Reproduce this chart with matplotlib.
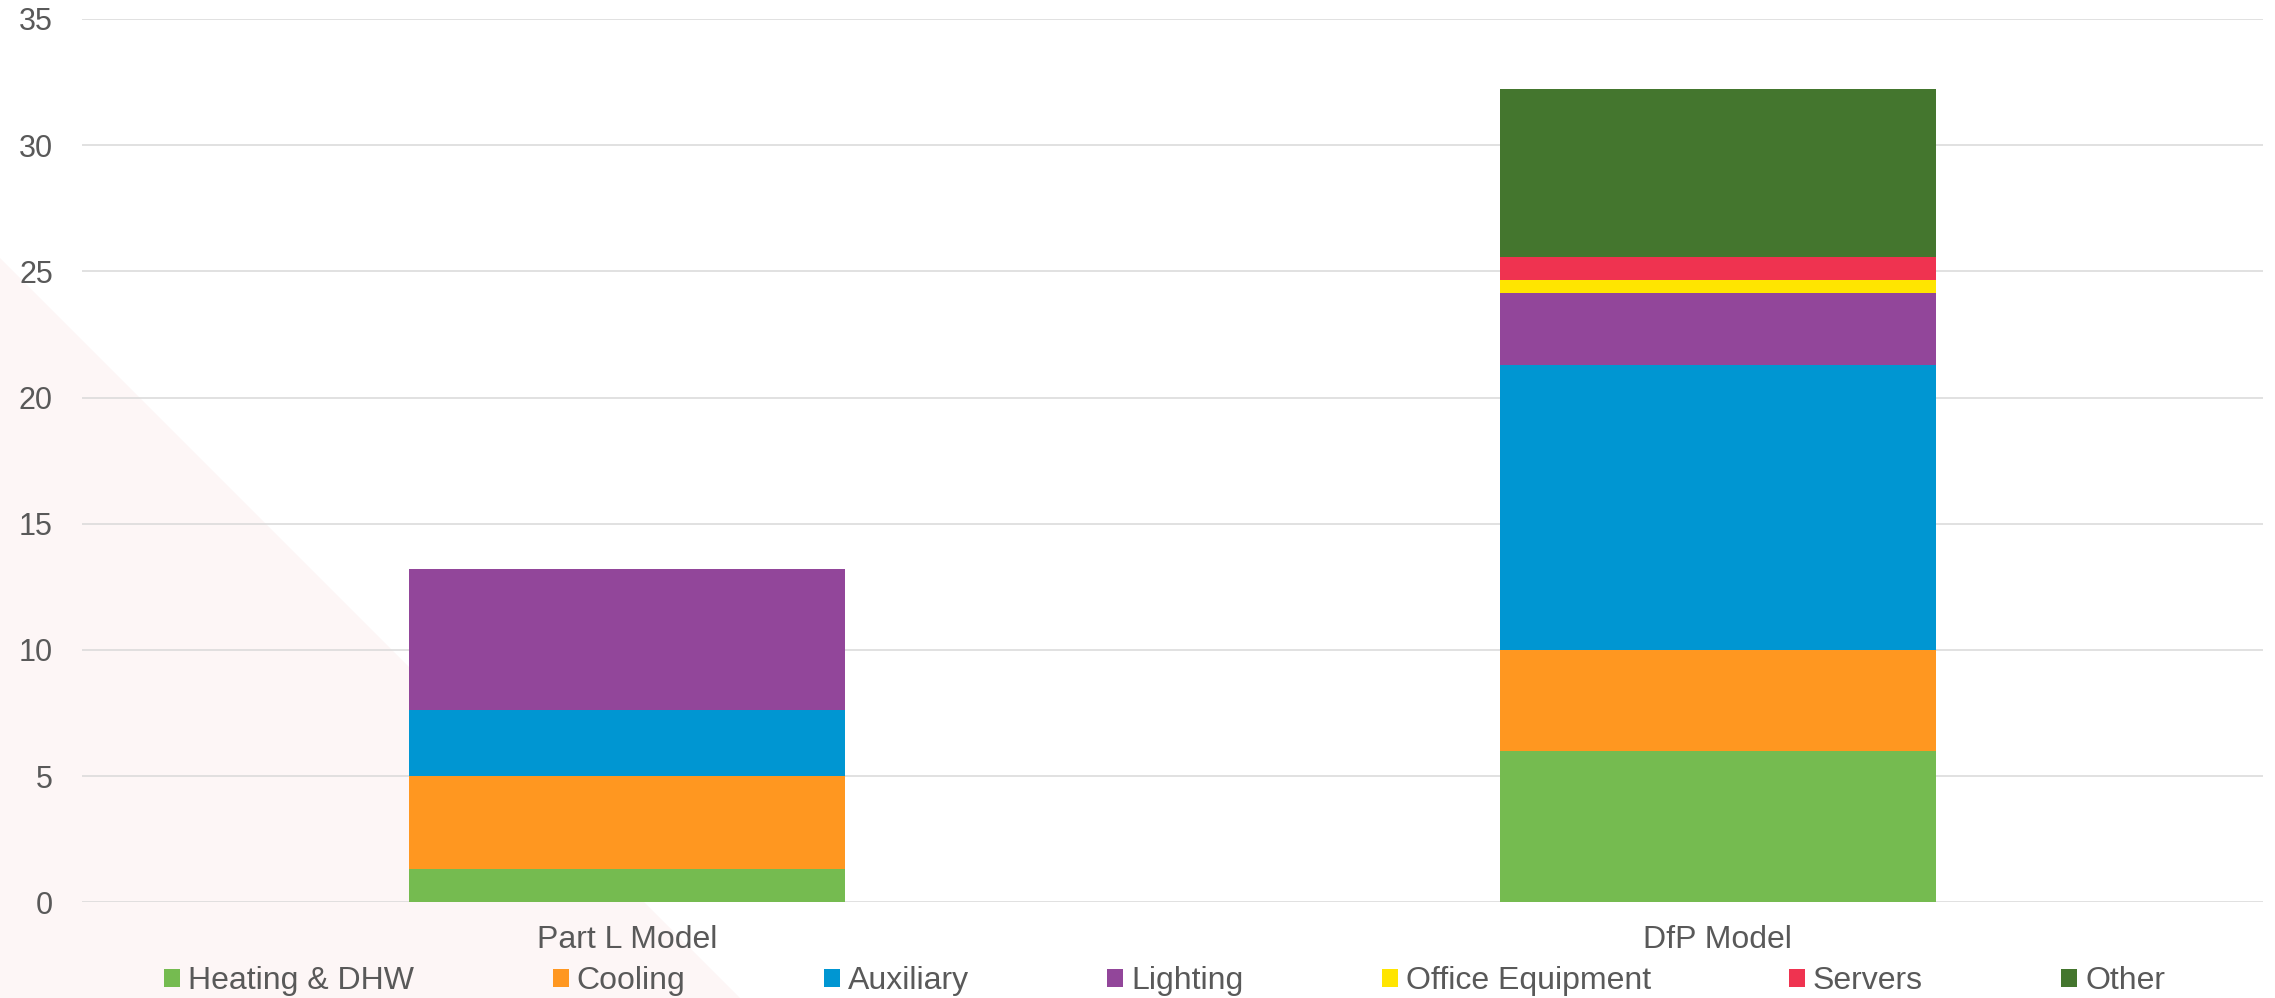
import matplotlib
matplotlib.use("Agg")
import matplotlib.pyplot as plt
from matplotlib.patches import Polygon, Patch
import numpy as np

categories = ["Part L Model", "DfP Model"]
series_names = ["Heating & DHW", "Cooling", "Auxiliary", "Lighting",
                "Office Equipment", "Servers", "Other"]
heating = [1.3, 6.0]
cooling = [3.7, 4.0]
auxiliary = [2.6, 11.3]
lighting = [5.6, 2.83]
office_equipment = [0.0, 0.52]
servers = [0.0, 0.92]
other = [0.0, 6.67]
yticks = [0, 5, 10, 15, 20, 25, 30, 35]

series_values = [heating, cooling, auxiliary, lighting, office_equipment, servers, other]
colors = ["#75BB50", "#FF9720", "#0096D2", "#92469A", "#FFE500", "#EF3350", "#44762E"]

plt.rcParams['font.family'] = ['Liberation Sans', 'DejaVu Sans']

W, H = 2275, 998
fig = plt.figure(figsize=(W / 100, H / 100), dpi=100)
fig.patch.set_facecolor("white")

# decorative background layer with pink triangle
bg = fig.add_axes([0, 0, 1, 1], zorder=-10)
bg.set_xlim(0, 1)
bg.set_ylim(0, 1)
bg.axis("off")
bg.add_patch(Polygon([(0, 1 - 258 / H), (0, 0), (740 / W, 0)], closed=True,
                     facecolor="#FDF6F6", edgecolor="none"))

ax = fig.add_axes([82 / W, 1 - 902.3 / H, (2263 - 82) / W, (902.3 - 18.9) / H], zorder=1)
ax.set_facecolor("none")

x = np.arange(len(categories))
bottom = np.zeros(len(categories))
for name, vals, c in zip(series_names, series_values, colors):
    v = np.array(vals, dtype=float)
    ax.bar(x, v, width=0.4, bottom=bottom, color=c, label=name, zorder=3, linewidth=0)
    bottom += v

ax.set_xlim(-0.5, 1.5)
ax.set_ylim(0, 35)
ax.set_yticks(yticks)
ax.set_xticks(x)
ax.set_xticklabels(categories)
for s in ax.spines.values():
    s.set_visible(False)
ax.grid(axis="y", color="#D9D9D9", linewidth=1.1, zorder=0)
ax.set_axisbelow(True)
ax.tick_params(axis="y", length=0, pad=21, labelsize=22, labelcolor="#595959")
ax.tick_params(axis="x", length=0, pad=16, labelsize=23, labelcolor="#595959")

handles = [Patch(facecolor=c, edgecolor="none") for c in colors]
leg = fig.legend(handles, series_names, loc="center", bbox_to_anchor=(0.512, 0.017),
                 ncol=7, frameon=False, fontsize=23, handlelength=0.5, handleheight=0.5,
                 handletextpad=0.25, columnspacing=4.33, borderpad=0, borderaxespad=0)
for t in leg.get_texts():
    t.set_color("#595959")

fig.savefig("out.png", dpi=100)
